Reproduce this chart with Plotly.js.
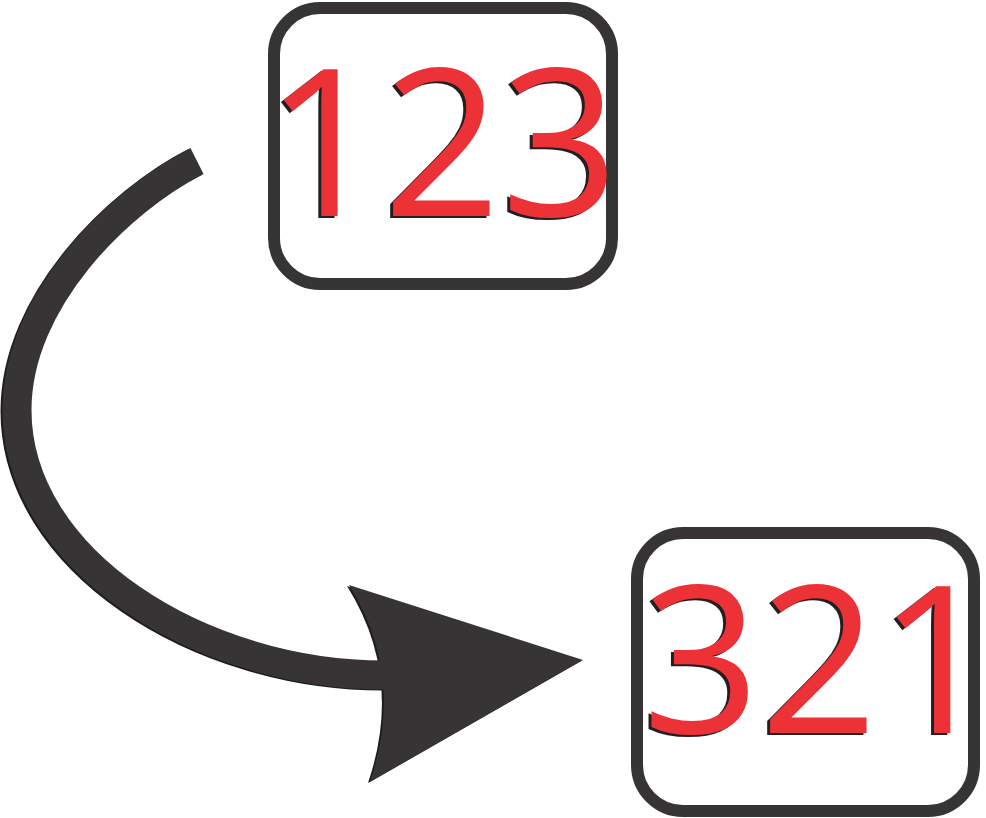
<!DOCTYPE html>
<html>
<head>
<meta charset="utf-8">
<script src="https://cdn.plot.ly/plotly-3.0.1.min.js"></script>
<style>html,body{margin:0;padding:0;background:#fff;}#chart{width:986px;height:818px;}</style>
</head>
<body>
<div id="chart"></div>
<script>
// Content of the picture
var labels = ['123', '321'];
var labelX = [442, 819];
var labelY = [164.5, 681.5];
// Box outlines (stroke centerlines) : left, top, right, bottom
var boxLeft = [274, 637];
var boxTop = [8, 533];
var boxRight = [612, 974];
var boxBottom = [284, 811];
// Arrow curve control points (Bezier)
var curveX = [197, 120, 17, 17, 17, 200, 385];
var curveY = [161, 200, 300, 410, 560, 675, 675];
// Arrow head: tip, top-back, back-curve control, bottom-back
var headX = [583, 349, 406, 370];
var headY = [660, 585, 676, 782];

var dark = '#363435';
var red = '#ed3237';
var shadow = '#231f20';

function roundRect(x0, y0, x1, y1, r) {
  var k = r * 0.45;
  return 'M' + (x0 + r) + ',' + y0 +
    ' L' + (x1 - r) + ',' + y0 +
    ' C' + (x1 - k) + ',' + y0 + ' ' + x1 + ',' + (y0 + k) + ' ' + x1 + ',' + (y0 + r) +
    ' L' + x1 + ',' + (y1 - r) +
    ' C' + x1 + ',' + (y1 - k) + ' ' + (x1 - k) + ',' + y1 + ' ' + (x1 - r) + ',' + y1 +
    ' L' + (x0 + r) + ',' + y1 +
    ' C' + (x0 + k) + ',' + y1 + ' ' + x0 + ',' + (y1 - k) + ' ' + x0 + ',' + (y1 - r) +
    ' L' + x0 + ',' + (y0 + r) +
    ' C' + x0 + ',' + (y0 + k) + ' ' + (x0 + k) + ',' + y0 + ' ' + (x0 + r) + ',' + y0 + ' Z';
}

function curvePath(dx, dy) {
  var p = function (i) { return (curveX[i] + dx) + ',' + (curveY[i] + dy); };
  return 'M' + p(0) + ' C' + p(1) + ' ' + p(2) + ' ' + p(3) + ' C' + p(4) + ' ' + p(5) + ' ' + p(6);
}

function headPath(dx, dy) {
  var p = function (i) { return (headX[i] + dx) + ',' + (headY[i] + dy); };
  return 'M' + p(1) + ' L' + p(0) + ' L' + p(3) + ' Q' + p(2) + ' ' + p(1) + ' Z';
}

var shapes = [];
for (var i = 0; i < labels.length; i++) {
  shapes.push({
    type: 'path', xref: 'x', yref: 'y', layer: 'below',
    path: roundRect(boxLeft[i], boxTop[i], boxRight[i], boxBottom[i], 46),
    line: {color: dark, width: 12}, fillcolor: 'rgba(0,0,0,0)'
  });
}
// subtle dark edge of the arrow
shapes.push({type: 'path', xref: 'x', yref: 'y', layer: 'below', path: curvePath(-2, 1),
  line: {color: '#1f1d1e', width: 29}, fillcolor: 'rgba(0,0,0,0)'});
shapes.push({type: 'path', xref: 'x', yref: 'y', layer: 'below', path: headPath(-2, 1),
  line: {color: '#1f1d1e', width: 0}, fillcolor: '#1f1d1e'});
shapes.push({type: 'path', xref: 'x', yref: 'y', layer: 'below', path: curvePath(0, 0),
  line: {color: dark, width: 29}, fillcolor: 'rgba(0,0,0,0)'});
shapes.push({type: 'path', xref: 'x', yref: 'y', layer: 'below', path: headPath(0, 0),
  line: {color: dark, width: 0}, fillcolor: dark});

var textTrace = {
  type: 'scatter', mode: 'text',
  x: labelX, y: labelY, text: labels,
  textposition: 'middle center',
  textfont: {family: 'Open Sans, Noto Sans, sans-serif', size: 206, color: red,
             shadow: '-3px 2px 0px ' + shadow},
  hoverinfo: 'skip', cliponaxis: false, showlegend: false
};

var layout = {
  width: 986, height: 818,
  margin: {l: 0, r: 0, t: 0, b: 0, pad: 0},
  paper_bgcolor: '#ffffff', plot_bgcolor: 'rgba(0,0,0,0)',
  showlegend: false,
  xaxis: {range: [0, 986], visible: false, fixedrange: true},
  yaxis: {range: [818, 0], visible: false, fixedrange: true},
  shapes: shapes
};

Plotly.newPlot('chart', [textTrace], layout, {displayModeBar: false, staticPlot: true});
</script>
</body>
</html>
